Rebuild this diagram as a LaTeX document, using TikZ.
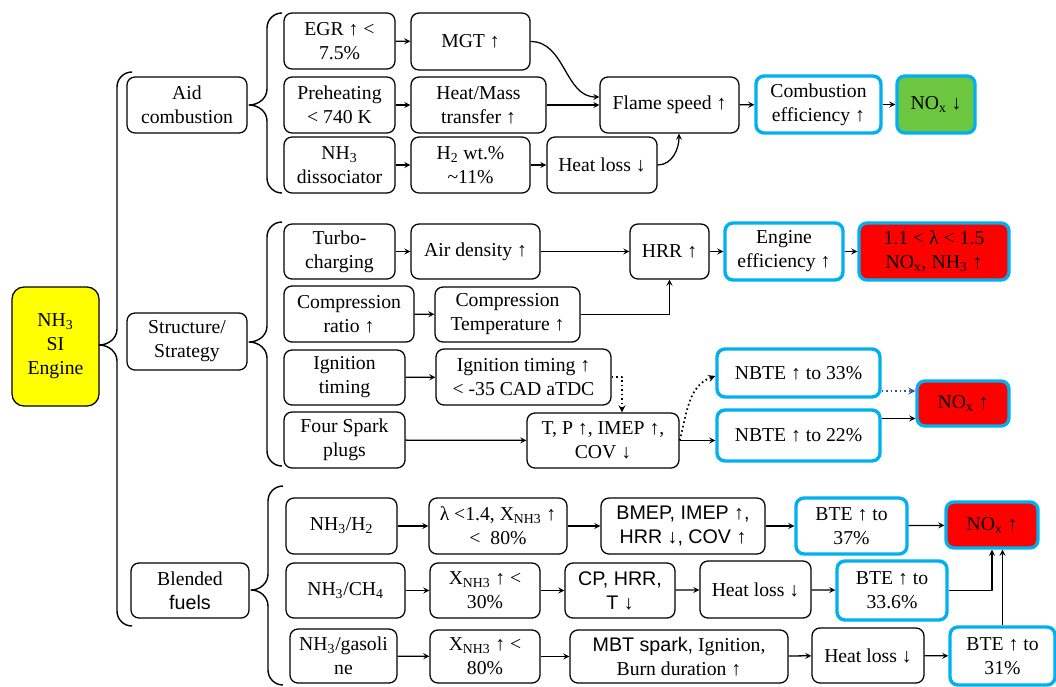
\documentclass[tikz,border=0pt]{standalone}
\usepackage{fontspec}
\setmainfont{Liberation Serif}
\setsansfont{Liberation Sans}
\usetikzlibrary{calc}
\definecolor{bluebox}{RGB}{0,176,240}
\definecolor{greenbox}{RGB}{108,198,64}
\definecolor{redbox}{RGB}{255,0,0}
\definecolor{yellowbox}{RGB}{255,255,0}
\definecolor{dotblue}{RGB}{47,85,151}
\newcommand\lsub[1]{\textsubscript{#1}}
\newcommand\bracket[5]{%
	\draw[line width=1pt] (#1+15,#2) to[out=180,in=90] (#1,#2+15) -- (#1,#3-16) to[out=-90,in=0] (#5,#3)
		to[out=0,in=90] (#1,#3+16) -- (#1,#4-15) to[out=-90,in=180] (#1+15,#4);}

\begin{document}
\begin{tikzpicture}[x=0.025cm, y=-0.025cm, font=\fontsize{14}{17}\selectfont, line join=round, >=stealth,
	box/.style={draw, rounded corners=0.2cm, line width=0.9pt, align=center, inner sep=1pt},
	cbox/.style={box, draw=bluebox, line width=2.4pt},
	sz/.style 2 args={minimum width=#1*0.025cm, minimum height=#2*0.025cm},
	sans/.style={font=\fontsize{14}{17}\selectfont\sffamily},
	arr/.style={->, line width=0.9pt},
	dots/.style={->, line width=1.2pt, dotted}]
	\useasboundingbox (0,0) rectangle (1056,686);

	\node[box, fill=yellowbox, rounded corners=0.3cm, sz={87}{119}] (root) at (55.5,346.5) {NH\lsub{3}\\SI\\Engine};
	\node[box, sz={120}{56}] (aid) at (187,105) {Aid\\combustion};
	\node[box, sz={120}{57}] (strat) at (187,341.5) {Structure/\\Strategy};
	\node[box, sz={118}{55}] (blend) at (190,590.5) {Blended\\{\sffamily fuels}};

	\bracket{117}{72}{345}{626}{99}
	\bracket{267}{13}{105}{193}{249}
	\bracket{267}{222}{342}{466}{249}
	\bracket{268}{486}{590}{685}{251}

	\node[box, sz={111}{56}] (egr) at (339.5,41) {EGR ↑ <\\7.5\%};
	\node[box, sz={111}{56}] (preh) at (339.5,105) {Preheating\\< 740 K};
	\node[box, sz={111}{56}] (diss) at (339.5,165) {NH\lsub{3}\\dissociator};
	\node[box, sz={119}{57}] (mgt) at (470.5,41.5) {MGT ↑};
	\node[box, sz={135}{56}] (heatmass) at (478.5,105) {Heat/Mass\\transfer ↑};
	\node[box, sz={119}{56}] (htwo) at (470.5,165) {H\lsub{2} wt.\%\\\textasciitilde11\%};
	\node[box, sz={110}{56}] (hlossa) at (602,165) {Heat loss ↓};
	\node[box, sz={139}{56}] (flame) at (669.5,105) {Flame speed ↑};
	\node[cbox, sz={125}{57}] (combeff) at (818.5,104.5) {Combustion\\efficiency ↑};
	\node[cbox, fill=greenbox, sz={78}{57}] (noxdown) at (936,104.5) {NO\lsub{x} ↓};

	\draw[arr] (egr) -- (mgt);
	\draw[arr] (preh) -- (heatmass);
	\draw[arr] (diss) -- (htwo);
	\draw[arr] (htwo) -- (hlossa);
	\draw[arr] (mgt.east) to[out=0,in=180] ($(flame.west)+(0,-8)$);
	\draw[arr] (heatmass) -- (flame);
	\draw[arr] (hlossa.east) to[out=0,in=-90] ($(flame.south)+(9.5,0)$);
	\draw[arr] (flame) -- (combeff);
	\draw[arr] (combeff) -- (noxdown);

	\node[box, sz={111}{55}] (turbo) at (339.5,251.5) {Turbo-\\charging};
	\node[box, sz={129}{55}] (airden) at (475.5,251.5) {Air density ↑};
	\node[box, sz={79}{55}] (hrr) at (669.5,251.5) {HRR ↑};
	\node[cbox, sz={118}{57}] (engeff) at (784,251.5) {Engine\\efficiency ↑};
	\node[cbox, fill=redbox, sz={150}{57}] (lamred) at (934,251.5) {1.1 < λ < 1.5\\NO\lsub{x}, NH\lsub{3} ↑};
	\node[box, sz={130}{56}] (compratio) at (349,314) {Compression\\ratio ↑};
	\node[box, sz={145}{55}] (comptemp) at (507.5,314.5) {Compression\\Temperature ↑};
	\node[box, sz={121}{55}] (igntim) at (344.5,377.5) {Ignition\\timing};
	\node[box, sz={175}{56}] (ignup) at (523.5,377) {Ignition timing ↑\\< -35 CAD aTDC};
	\node[box, sz={121}{56}] (spark) at (344.5,440) {Four Spark\\plugs};
	\node[box, sz={152}{55}] (tp) at (603,440.5) {T, P ↑, IMEP ↑,\\COV ↓};
	\node[cbox, sz={163}{48}] (nbtea) at (798.5,373) {NBTE ↑ to 33\%};
	\node[cbox, sz={163}{51}] (nbteb) at (798.5,435.5) {NBTE ↑ to 22\%};
	\node[cbox, fill=redbox, sz={92}{45}] (noxupa) at (963,403.5) {NO\lsub{x} ↑};

	\draw[arr] (turbo) -- (airden);
	\draw[arr] (airden) -- (hrr);
	\draw[arr] (hrr) -- (engeff);
	\draw[arr] (engeff) -- (lamred);
	\draw[arr] (compratio) -- (comptemp);
	\draw[arr] (comptemp.east) -| (hrr.south);
	\draw[arr] (igntim) -- (ignup);
	\draw[dots] (ignup.east) -| ($(tp.north)+(19,0)$);
	\draw[arr] (spark) -- (tp);
	\draw[arr] (tp.east) -- (tp.east -| nbteb.west);
	\draw[dots] (tp.east) to[out=75,in=200] ($(nbtea.west)+(0,3)$);
	\coordinate (qa) at ($(nbtea.east)+(0,18)$);
	\coordinate (qb) at ($(nbteb.east)+(0,-17)$);
	\draw[dots, dotblue] (qa) -- (qa -| noxupa.west);
	\draw[arr] (qb) -- (qb -| noxupa.west);

	\node[box, sz={111}{56}] (nhh) at (341.5,526) {NH\lsub{3}/H\lsub{2}};
	\node[box, sz={119}{55}] (nhch) at (345.5,590.5) {NH\lsub{3}/CH\lsub{4}};
	\node[box, sz={107}{54}] (nhgas) at (343.5,656) {NH\lsub{3}/gasoli\\ne};
	\node[box, sz={138}{56}] (lamb) at (498,526) {λ <1.4, X\lsub{NH3} ↑\\<\ \ 80\%};
	\node[box, sz={110}{55}] (xthirty) at (485,590.5) {X\lsub{NH3} ↑ <\\30\%};
	\node[box, sz={110}{53}] (xeighty) at (485,656.5) {X\lsub{NH3} ↑ <\\80\%};
	\node[box, sans, sz={164}{56}] (bmep) at (683,526) {BMEP, IMEP ↑,\\HRR ↓, COV ↑};
	\node[box, sans, sz={110}{55}] (cp) at (620,590.5) {CP, HRR,\\T ↓};
	\node[box, sz={218}{53}] (mbt) at (679,656.5) {{\sffamily MBT spark,} Ignition,\\Burn duration ↑};
	\node[box, sz={111}{57}] (hlossb) at (755.5,589.5) {Heat loss ↓};
	\node[box, sz={112}{55}] (hlossc) at (868,655.5) {Heat loss ↓};
	\node[cbox, sz={111}{56}] (btea) at (851.5,526) {BTE ↑ to\\37\%};
	\node[cbox, sz={110}{59}] (bteb) at (892,590.5) {BTE ↑ to\\33.6\%};
	\node[cbox, sz={105}{58}] (btec) at (1002.5,656) {BTE ↑ to\\31\%};
	\node[cbox, fill=redbox, sz={92}{46}] (noxupb) at (992,525) {NO\lsub{x} ↑};

	\draw[arr] (nhh) -- (lamb);
	\draw[arr] (lamb) -- (bmep);
	\draw[arr] (bmep) -- (btea);
	\draw[arr] (btea) -- (noxupb);
	\draw[arr] (nhch) -- (xthirty);
	\draw[arr] (xthirty) -- (cp);
	\draw[arr] (cp) -- (hlossb);
	\draw[arr] (hlossb) -- (bteb);
	\draw[arr] (bteb.east) -| (noxupb.south);
	\draw[arr] (nhgas) -- (xeighty);
	\draw[arr] (xeighty) -- (mbt);
	\draw[arr] (mbt) -- (hlossc);
	\draw[arr] (hlossc) -- (btec);
	\draw[arr] (btec.north) -- (btec.north |- noxupb.south);
\end{tikzpicture}
\end{document}
